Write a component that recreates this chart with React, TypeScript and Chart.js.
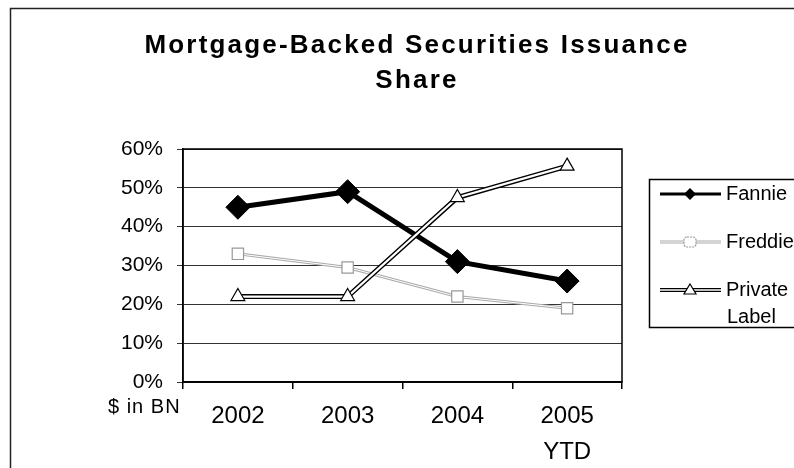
import React, { useEffect, useRef } from "react";
import { Chart, registerables } from "chart.js";

Chart.register(...registerables);

const titleLines = ["Mortgage-Backed Securities Issuance", "Share"];
const categories: (string | string[])[] = ["2002", "2003", "2004", ["2005", "YTD"]];
const fannie = [45, 49, 31, 26];
const freddie = [33, 29.5, 22, 19];
const privateLabel = [22, 22, 47.5, 55.6];
const yTicks = [0, 10, 20, 30, 40, 50, 60];
const unitLabel = "$ in BN";
const legendNames = [["Fannie"], ["Freddie"], ["Private", "Label"]];

const FONT = "'Liberation Sans', Arial, sans-serif";

function drawMarker(ctx: CanvasRenderingContext2D, kind: number, x: number, y: number) {
  ctx.save();
  ctx.lineWidth = 1.2;
  if (kind === 0) {
    ctx.fillStyle = "#000";
    ctx.beginPath();
    ctx.moveTo(x, y - 6);
    ctx.lineTo(x + 6, y);
    ctx.lineTo(x, y + 6);
    ctx.lineTo(x - 6, y);
    ctx.closePath();
    ctx.fill();
  } else if (kind === 1) {
    ctx.fillStyle = "#fff";
    ctx.strokeStyle = "#999";
    ctx.setLineDash([2, 1]);
    ctx.beginPath();
    (ctx as any).roundRect ? (ctx as any).roundRect(x - 6, y - 5, 12, 10, 3) : ctx.rect(x - 6, y - 5, 12, 10);
    ctx.fill();
    ctx.stroke();
  } else {
    ctx.fillStyle = "#fff";
    ctx.strokeStyle = "#000";
    ctx.beginPath();
    ctx.moveTo(x, y - 6);
    ctx.lineTo(x + 6, y + 4);
    ctx.lineTo(x - 6, y + 4);
    ctx.closePath();
    ctx.fill();
    ctx.stroke();
  }
  ctx.restore();
}

const decorPlugin = {
  id: "decor",
  beforeDraw(chart: any) {
    const ctx = chart.ctx as CanvasRenderingContext2D;
    ctx.save();
    ctx.fillStyle = "#fff";
    ctx.fillRect(0, 0, chart.width, chart.height);
    ctx.strokeStyle = "#222";
    ctx.lineWidth = 1.5;
    ctx.beginPath();
    ctx.moveTo(10.5, chart.height);
    ctx.lineTo(10.5, 8.5);
    ctx.lineTo(chart.width, 8.5);
    ctx.stroke();
    ctx.restore();
  },
  afterDraw(chart: any) {
    const ctx = chart.ctx as CanvasRenderingContext2D;
    const a = chart.chartArea;
    ctx.save();
    // plot border
    ctx.strokeStyle = "#000";
    ctx.lineWidth = 1.5;
    ctx.strokeRect(a.left, a.top, a.right - a.left, a.bottom - a.top);
    // title
    ctx.fillStyle = "#000";
    ctx.textAlign = "center";
    ctx.textBaseline = "middle";
    ctx.font = `bold 26px ${FONT}`;
    (ctx as any).letterSpacing = "2.2px";
    ctx.fillText(titleLines[0], 417, 46);
    ctx.fillText(titleLines[1], 417, 81);
    (ctx as any).letterSpacing = "0px";
    // unit label
    ctx.font = `20px ${FONT}`;
    (ctx as any).letterSpacing = "1px";
    ctx.textAlign = "left";
    ctx.fillText(unitLabel, 108, 407);
    (ctx as any).letterSpacing = "0px";
    // legend
    ctx.strokeStyle = "#000";
    ctx.lineWidth = 1.5;
    ctx.strokeRect(649.5, 179.5, 200, 148);
    const rows = [194, 242, 290];
    ctx.font = `20px ${FONT}`;
    ctx.textAlign = "left";
    rows.forEach((y, i) => {
      const x0 = 660, x1 = 721, xm = 690;
      if (i === 0) {
        ctx.strokeStyle = "#000";
        ctx.lineWidth = 3;
        ctx.beginPath(); ctx.moveTo(x0, y); ctx.lineTo(x1, y); ctx.stroke();
      } else if (i === 1) {
        ctx.strokeStyle = "#aaa";
        ctx.lineWidth = 3;
        ctx.beginPath(); ctx.moveTo(x0, y); ctx.lineTo(x1, y); ctx.stroke();
        ctx.strokeStyle = "#fff";
        ctx.lineWidth = 1;
        ctx.beginPath(); ctx.moveTo(x0, y); ctx.lineTo(x1, y); ctx.stroke();
      } else {
        ctx.strokeStyle = "#000";
        ctx.lineWidth = 4;
        ctx.beginPath(); ctx.moveTo(x0, y); ctx.lineTo(x1, y); ctx.stroke();
        ctx.strokeStyle = "#fff";
        ctx.lineWidth = 1.5;
        ctx.beginPath(); ctx.moveTo(x0, y); ctx.lineTo(x1, y); ctx.stroke();
      }
      drawMarker(ctx, i, xm, y);
      ctx.fillStyle = "#000";
      const names = legendNames[i];
      ctx.fillText(names[0], 726, y);
      if (names[1]) ctx.fillText(names[1], 727, y + 27);
    });
    ctx.restore();
  },
};

export default function App() {
  const ref = useRef<HTMLCanvasElement | null>(null);
  useEffect(() => {
    if (!ref.current) return;
    const chart = new Chart(ref.current, {
      type: "line",
      data: {
        labels: categories,
        datasets: [
          { label: "Fannie", data: fannie, borderColor: "#000", borderWidth: 5, pointRadius: 0, order: 6 },
          { label: "FannieP", data: fannie, showLine: false, pointStyle: "rectRot", pointRadius: 12, pointBackgroundColor: "#000", pointBorderColor: "#000", order: 1 },
          { label: "Freddie", data: freddie, borderColor: "#aaa", borderWidth: 3, pointRadius: 0, order: 8 },
          { label: "FreddieW", data: freddie, borderColor: "#fff", borderWidth: 1, pointRadius: 0, order: 7 },
          { label: "FreddieP", data: freddie, showLine: false, pointStyle: "rect", pointRadius: 8, pointBackgroundColor: "#fff", pointBorderColor: "#999", pointBorderWidth: 1.2, order: 2 },
          { label: "Private", data: privateLabel, borderColor: "#000", borderWidth: 5, pointRadius: 0, order: 5 },
          { label: "PrivateW", data: privateLabel, borderColor: "#fff", borderWidth: 2.2, pointRadius: 0, order: 4 },
          { label: "PrivateP", data: privateLabel, showLine: false, pointStyle: "triangle", pointRadius: 8, pointBackgroundColor: "#fff", pointBorderColor: "#000", pointBorderWidth: 1.2, order: 3 },
        ],
      },
      options: {
        animation: false,
        responsive: false,
        maintainAspectRatio: false,
        layout: { padding: { top: 149, left: 10, right: 172, bottom: 0 } },
        plugins: { legend: { display: false }, title: { display: false }, tooltip: { enabled: false } },
        scales: {
          x: {
            type: "category",
            offset: true,
            grid: { offset: true, drawOnChartArea: false, drawTicks: true, tickLength: 7, color: "#000", lineWidth: 1.5 },
            border: { display: true, color: "#000", width: 1.5 },
            ticks: { color: "#000", font: { family: FONT, size: 24, lineHeight: 1.5 }, padding: 9, maxRotation: 0, autoSkip: false },
            afterFit: (s: any) => { s.height = 86; },
          },
          y: {
            min: 0,
            max: 60,
            afterBuildTicks: (s: any) => { s.ticks = yTicks.map((v) => ({ value: v })); },
            grid: { color: "#333", lineWidth: 1, drawTicks: true, tickLength: 6 },
            border: { display: true, color: "#000", width: 1.5 },
            ticks: { color: "#000", font: { family: FONT, size: 21 }, padding: 14, callback: (v: any) => `${v}%` },
            afterFit: (s: any) => { s.width = 173; },
          },
        },
      },
      plugins: [decorPlugin],
    } as any);
    return () => chart.destroy();
  }, []);
  return (
    <div style={{ position: "absolute", left: 0, top: 0 }}>
      <canvas ref={ref} width={794} height={468} style={{ display: "block", width: 794, height: 468 }} />
    </div>
  );
}
